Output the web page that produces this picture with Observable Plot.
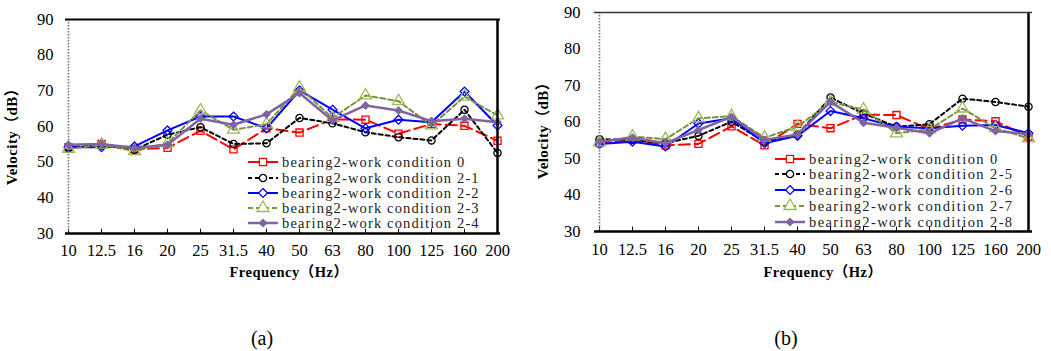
<!DOCTYPE html>
<html><head><meta charset="utf-8">
<script src="https://cdn.jsdelivr.net/npm/d3@7"></script>
<script src="https://cdn.jsdelivr.net/npm/@observablehq/plot@0.6"></script>
<style>
body{margin:0;background:#fff;width:1051px;height:351px;overflow:hidden;position:relative}
#pa{position:absolute;left:0;top:0}
#pb{position:absolute;left:525px;top:0}
.cap{position:absolute;font:20px "Liberation Serif",serif;transform:translate(-50%,-50%);color:#000}
</style></head>
<body>
<div id="pa"></div><div id="pb"></div>
<div class="cap" style="left:262px;top:338px">(a)</div>
<div class="cap" style="left:786px;top:338px">(b)</div>
<script>
const freqs = ["10","12.5","16","20","25","31.5","40","50","63","80","100","125","160","200"];
const yTicks = [30,40,50,60,70,80,90];
const xTitle = "Frequency（Hz）";
const yTitle = "Velocity（dB）";

// panel (a)
const namesA = ["bearing2-work condition 0","bearing2-work condition 2-1","bearing2-work condition 2-2","bearing2-work condition 2-3","bearing2-work condition 2-4"];
const cond0 = [54.2,55.1,53.6,54.0,58.8,53.6,59.5,58.3,62.0,61.9,58.0,60.7,60.2,56.0];
const c21 = [54.0,54.7,53.5,57.7,59.8,55.1,55.3,62.4,60.9,58.4,57.0,56.1,64.7,52.6];
const c22 = [54.2,54.2,54.4,58.9,62.8,62.8,59.5,70.1,64.7,59.5,61.9,61.2,69.8,60.3];
const c23 = [53.7,54.9,53.1,55.3,64.5,59.1,60.6,70.9,62.4,68.7,67.1,60.3,68.4,63.1];
const c24 = [54.9,55.1,54.0,54.9,62.2,60.5,63.4,69.4,61.7,65.9,64.5,61.5,62.2,61.2];

// panel (b)
const namesB = ["bearing2-work condition 0","bearing2-work condition 2-5","bearing2-work condition 2-6","bearing2-work condition 2-7","bearing2-work condition 2-8"];
const c25 = [55.3,55.1,54.2,56.2,60.1,54.6,56.5,66.7,62.3,58.7,59.4,66.4,65.5,64.2];
const c26 = [54.0,54.6,53.3,59.6,61.0,54.2,56.2,63.0,61.0,58.7,58.3,59.0,59.2,56.9];
const c27 = [54.4,56.0,55.3,61.0,61.6,55.7,58.7,65.5,63.4,56.9,58.0,63.7,58.3,55.5];
const c28 = [54.6,55.7,54.2,57.8,61.4,55.1,56.6,65.5,59.8,58.4,56.9,61.0,57.5,56.7];

const styles = [
  {stroke:"#ff0000", mstroke:"#ff0000", dash:"11,5", w:2, symbol:"square", r:4, fill:"none"},
  {stroke:"#000000", mstroke:"#000000", dash:"4,3", w:2, symbol:"circle", r:3.6, fill:"none"},
  {stroke:"#0000ff", mstroke:"#0000ff", dash:null, w:2, symbol:"diamond2", r:4, fill:"none"},
  {stroke:"#77933c", mstroke:"#9bbb59", dash:"5,3", w:2, symbol:"triangle", r:4.5, fill:"none"},
  {stroke:"#8064a2", mstroke:"#8064a2", dash:null, w:2.5, symbol:"diamond2", r:3.2, fill:"#8064a2"}
];
const symMap = {square:d3.symbolSquare, circle:d3.symbolCircle, diamond2:d3.symbolDiamond2, triangle:d3.symbolTriangle};
const SERIF = "'Liberation Serif', 'Times New Roman', serif";
const TITLEF = "'Liberation Serif', 'Noto Sans CJK SC', serif";

function panel(el, names, series, o) {
  const marks = [
    Plot.ruleX(freqs, {x: d => d, y1: 30, y2: 31.2, stroke: "#000", strokeWidth: 1})
  ];
  series.forEach((vals, k) => {
    const st = styles[k];
    const data = freqs.map((f, i) => ({freq: f, v: vals[i]}));
    marks.push(Plot.line(data, {x: "freq", y: "v", stroke: st.stroke, strokeWidth: st.w, strokeDasharray: st.dash || undefined}));
    marks.push(Plot.dot(data, {x: "freq", y: "v", symbol: () => st.symbol, r: st.r, stroke: st.mstroke, fill: st.fill, strokeWidth: 1.3}));
  });
  marks.push(Plot.ruleX(["10"], {x: d => d, stroke: "#777", strokeWidth: 1.6, strokeDasharray: "1.5,1.5"}));
  marks.push(Plot.ruleX(["200"], {x: d => d, stroke: "#000", strokeWidth: 2.5}));
  marks.push(Plot.ruleY([90], {stroke: o.topColor, strokeWidth: o.topW}));
  marks.push(Plot.ruleY([30], {stroke: "#000", strokeWidth: 2.5}));
  marks.push(Plot.axisY({ticks: yTicks, tickSize: 0, tickPadding: o.yPad, label: null}));
  marks.push(Plot.axisX({tickSize: 0, tickPadding: o.xPad, label: null}));

  const svg = Plot.plot({
    width: o.width, height: 285,
    marginLeft: o.ml, marginRight: o.mr, marginTop: o.mt, marginBottom: 285 - o.bottom,
    x: {type: "point", domain: freqs, padding: 0},
    y: {domain: [30, 90]},
    style: {background: "transparent", overflow: "visible"},
    marks
  });
  const s = d3.select(svg);
  s.attr("font-family", null).attr("font-size", null);
  s.selectAll("text").each(function() {
    this.style.fontFamily = SERIF;
    this.style.fontSize = "16.5px";
    this.setAttribute("fill", "#000");
  });
  s.append("text").attr("x", o.xtX).attr("y", 277).attr("text-anchor", "middle").attr("fill", "#000")
    .style("font-family", TITLEF).style("font-weight", "bold").style("font-size", "14.5px").style("letter-spacing", "0.5px")
    .text(xTitle);
  s.append("text").attr("transform", `translate(${o.ytX},${o.ytY}) rotate(-90)`).attr("text-anchor", "middle").attr("fill", "#000")
    .style("font-family", TITLEF).style("font-weight", "bold").style("font-size", "15px").style("letter-spacing", "0.4px")
    .text(yTitle);
  const lg = s.append("g");
  names.forEach((n, k) => {
    const st = styles[k];
    const y = o.legY[k];
    lg.append("line").attr("x1", o.legX).attr("x2", o.legX + 30).attr("y1", y).attr("y2", y)
      .attr("stroke", st.stroke).attr("stroke-width", st.w).attr("stroke-dasharray", st.dash ? (k === 0 ? null : st.dash) : null);
    lg.append("path").attr("transform", `translate(${o.legX + 15},${y})`)
      .attr("d", d3.symbol(symMap[st.symbol], st.r * st.r * Math.PI)())
      .attr("stroke", st.mstroke).attr("fill", st.fill === "none" ? "#fff" : st.fill).attr("stroke-width", 1.3);
    lg.append("text").attr("x", o.legX + 34).attr("y", y + 5).attr("text-anchor", "start")
      .style("font-family", SERIF).style("font-size", "14.5px").style("letter-spacing", o.ls + "px")
      .attr("fill", "#222").text(n);
  });
  document.getElementById(el).appendChild(svg);
}

panel("pa", namesA, [cond0, c21, c22, c23, c24], {
  width: 525, ml: 65, mr: 25, mt: 19, bottom: 233, yPad: 12, xPad: 11,
  topColor: "#000", topW: 2, xtX: 289, ytX: 17, ytY: 133,
  legX: 248, legY: [162, 178, 193, 208, 223], ls: 1.15
});
panel("pb", namesB, [cond0, c25, c26, c27, c28], {
  width: 526, ml: 69, mr: 19, mt: 12, bottom: 231, yPad: 14, xPad: 12,
  topColor: "#333", topW: 1.3, xtX: 298, ytX: 23, ytY: 127,
  legX: 250, legY: [159, 174, 190, 206, 222], ls: 1.4
});
</script>
</body></html>
